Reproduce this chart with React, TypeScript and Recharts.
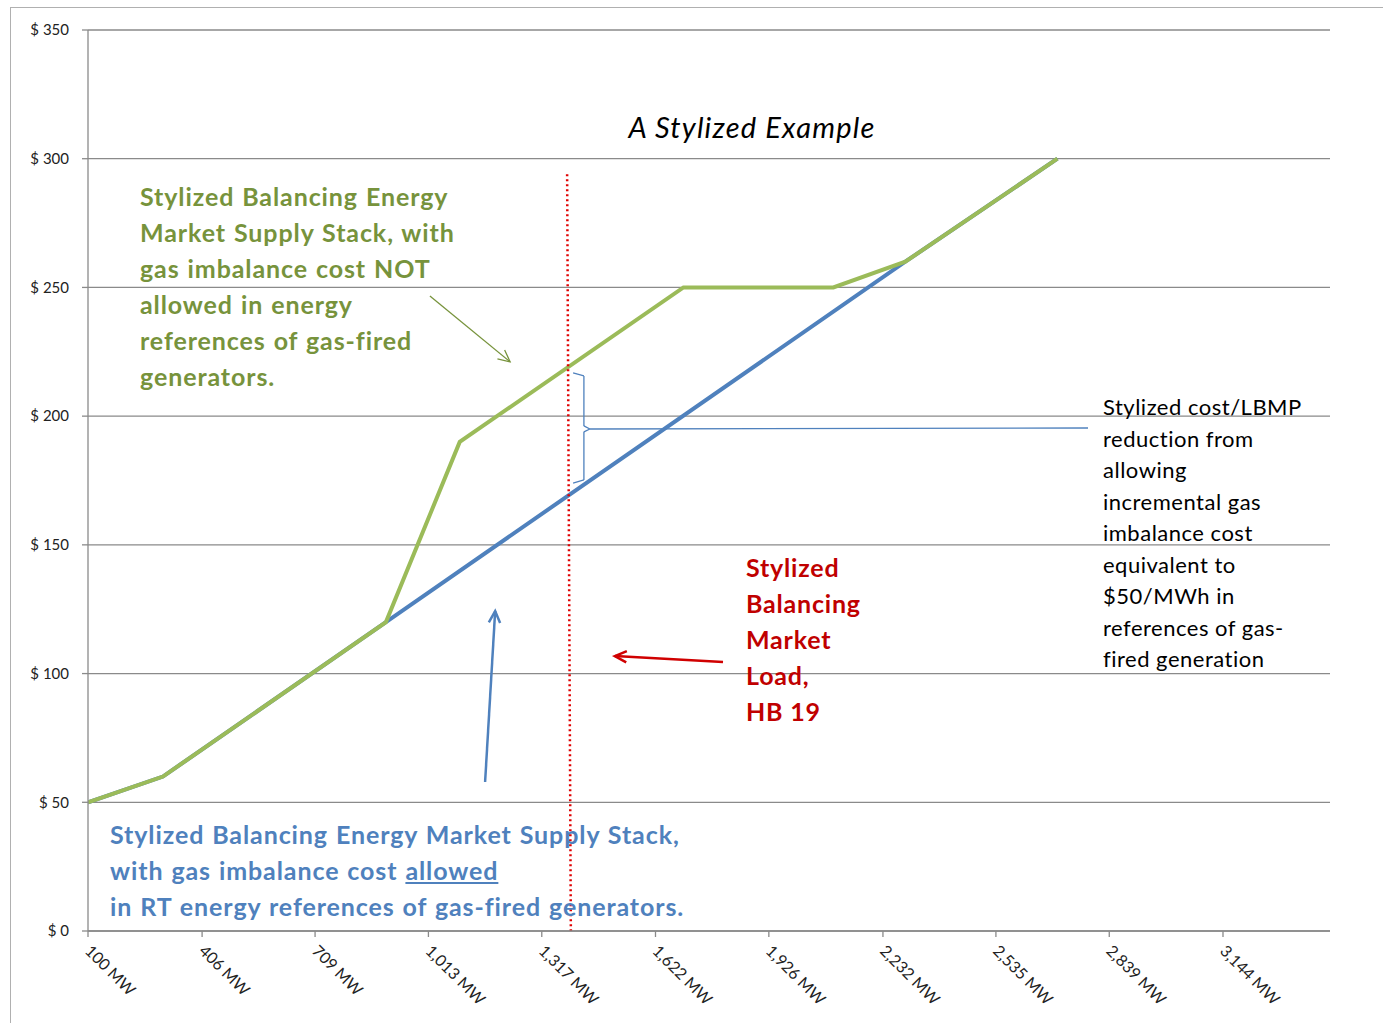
import React from "react";
import {
  LineChart,
  Line,
  XAxis,
  YAxis,
  CartesianGrid,
  ReferenceLine,
} from "recharts";

// supply stack break points (MW) and $/MWh offers
const mwPoints = [100, 301, 899, 1097, 1697, 2099, 2292, 2700];
const stackNotAllowed = [50, 60, 120, 190, 250, 250, 260, 300];
const stackAllowed = [50, 60, 120, null, null, null, 260, 300];

const xTicks = [100, 406, 709, 1013, 1317, 1622, 1926, 2232, 2535, 2839, 3144];
const yTicks = [0, 50, 100, 150, 200, 250, 300, 350];

// balancing market load marker, drawn from the top of the stack to the axis
const loadLine = [
  { x: 1385, y: 294 },
  { x: 1395, y: 0 },
];

// annotation arrows [from, to] in data units
const greenArrow = [
  { x: 1017, y: 246.7 },
  { x: 1232, y: 221.1 },
];
const blueArrow = [
  { x: 1165, y: 57.9 },
  { x: 1192, y: 124.3 },
];
const redArrow = [
  { x: 1803, y: 104.5 },
  { x: 1513, y: 106.8 },
];

// brace between the two stacks at the load line
const brace = [
  { x: 1401, y: 216.8 },
  { x: 1430, y: 215.6 },
  { x: 1430, y: 196.2 },
  { x: 1446, y: 195.0 },
  { x: 1430, y: 193.9 },
  { x: 1430, y: 175.2 },
  { x: 1401, y: 174.0 },
];
const braceLeader = [
  { x: 1446, y: 195.0 },
  { x: 2782, y: 195.4 },
];

const data = mwPoints.map((mw, i) => ({
  mw,
  notAllowed: stackNotAllowed[i],
  allowed: stackAllowed[i],
}));

const GREEN = "#9BBB59";
const BLUE = "#4F81BD";
const GRID = "#8A8A8A";
const FONT = "Lato, 'Open Sans', sans-serif";

const XTick = ({ x, y, payload }: any) => (
  <g transform={`translate(${x - 4},${y + 13})`}>
    <text
      transform="rotate(45)"
      textAnchor="start"
      fontSize={16}
      fontFamily={FONT}
      fill="#222"
    >
      {`${Number(payload.value).toLocaleString("en-US")} MW`}
    </text>
  </g>
);

const YTick = ({ x, y, payload }: any) => (
  <text
    x={x - 11}
    y={y}
    dy="0.35em"
    textAnchor="end"
    fontSize={15}
    fontFamily={FONT}
    fill="#222"
  >
    {`$ ${payload.value}`}
  </text>
);

const arrowShape = (color: string, width: number, head: number) => (p: any) => {
  const { x1, y1, x2, y2 } = p;
  const a = Math.atan2(y2 - y1, x2 - x1);
  const spread = 0.45;
  const hx1 = x2 - head * Math.cos(a - spread);
  const hy1 = y2 - head * Math.sin(a - spread);
  const hx2 = x2 - head * Math.cos(a + spread);
  const hy2 = y2 - head * Math.sin(a + spread);
  return (
    <g>
      <line x1={x1} y1={y1} x2={x2} y2={y2} stroke={color} strokeWidth={width} />
      <polyline
        points={`${hx1},${hy1} ${x2},${y2} ${hx2},${hy2}`}
        fill="none"
        stroke={color}
        strokeWidth={width}
      />
    </g>
  );
};

const segments = (pts: { x: number; y: number }[]) =>
  pts.slice(1).map((p, i) => [pts[i], p] as any);

const note: React.CSSProperties = {
  position: "absolute",
  whiteSpace: "pre",
  fontVariantLigatures: "none",
};

const boldNote: React.CSSProperties = {
  ...note,
  fontWeight: 700,
  fontSize: 25,
  letterSpacing: 0.9,
  wordSpacing: 1,
  lineHeight: "36px",
};

export default function App() {
  return (
    <div
      style={{
        position: "absolute",
        left: 0,
        top: 0,
        width: 1383,
        height: 1023,
        background: "#fff",
        overflow: "hidden",
        fontFamily: FONT,
      }}
    >
      <div
        style={{
          position: "absolute",
          left: 10,
          top: 7,
          width: 1400,
          height: 1040,
          border: "1.5px solid #B0B0B0",
          boxSizing: "border-box",
        }}
      />
      <LineChart
        width={1383}
        height={1023}
        data={data}
        margin={{ top: 30, right: 53, left: 0, bottom: 0 }}
        style={{ position: "absolute", left: 0, top: 0 }}
      >
        <CartesianGrid vertical={false} stroke={GRID} strokeWidth={1.3} />
        <XAxis
          dataKey="mw"
          type="number"
          domain={[100, 3431]}
          ticks={xTicks}
          allowDataOverflow
          height={92}
          stroke={GRID}
          strokeWidth={1.3}
          tickSize={6}
          tick={<XTick />}
        />
        <YAxis
          domain={[0, 350]}
          ticks={yTicks}
          width={88}
          stroke={GRID}
          strokeWidth={1.3}
          tickSize={6}
          tick={<YTick />}
        />
        <Line
          dataKey="allowed"
          stroke={BLUE}
          strokeWidth={4}
          dot={false}
          connectNulls
          isAnimationActive={false}
        />
        <Line
          dataKey="notAllowed"
          stroke={GREEN}
          strokeWidth={4}
          dot={false}
          isAnimationActive={false}
        />
        <ReferenceLine
          segment={loadLine}
          stroke="#E00000"
          strokeWidth={2.5}
          strokeDasharray="2 3"
          ifOverflow="visible"
        />
        {segments(brace).map((s, i) => (
          <ReferenceLine key={`b${i}`} segment={s} stroke={BLUE} strokeWidth={1.3} ifOverflow="visible" />
        ))}
        <ReferenceLine segment={braceLeader} stroke={BLUE} strokeWidth={1.3} ifOverflow="visible" />
        <ReferenceLine segment={greenArrow} ifOverflow="visible" shape={arrowShape("#77933C", 1.3, 13)} />
        <ReferenceLine segment={blueArrow} ifOverflow="visible" shape={arrowShape(BLUE, 2.5, 13)} />
        <ReferenceLine segment={redArrow} ifOverflow="visible" shape={arrowShape("#D00000", 2.5, 13)} />
      </LineChart>

      <div
        style={{
          ...note,
          left: 502,
          top: 109,
          width: 500,
          textAlign: "center",
          fontStyle: "italic",
          fontSize: 29,
          letterSpacing: 1.2,
          color: "#000",
          lineHeight: "36px",
        }}
      >
        A Stylized Example
      </div>

      <div style={{ ...boldNote, left: 140, top: 178, color: "#77933C" }}>
        {"Stylized Balancing Energy\nMarket Supply Stack, with\ngas imbalance cost NOT\nallowed in energy\nreferences of gas-fired\ngenerators."}
      </div>

      <div style={{ ...boldNote, left: 746, top: 549, color: "#C00000", letterSpacing: 0.8, wordSpacing: 0 }}>
        {"Stylized\nBalancing\nMarket\nLoad,\nHB 19"}
      </div>

      <div
        style={{
          ...note,
          left: 1103,
          top: 391,
          fontSize: 22,
          letterSpacing: 0.5,
          lineHeight: "31.5px",
          color: "#000",
        }}
      >
        {"Stylized cost/LBMP\nreduction from\nallowing\nincremental gas\nimbalance cost\nequivalent to\n$50/MWh in\nreferences of gas-\nfired generation"}
      </div>

      <div style={{ ...boldNote, left: 110, top: 816, color: "#4F81BD" }}>
        <div>{"Stylized Balancing Energy Market Supply Stack,"}</div>
        <div>
          {"with gas imbalance cost "}
          <span style={{ textDecoration: "underline" }}>allowed</span>
        </div>
        <div>{"in RT energy references of gas-fired generators."}</div>
      </div>
    </div>
  );
}
